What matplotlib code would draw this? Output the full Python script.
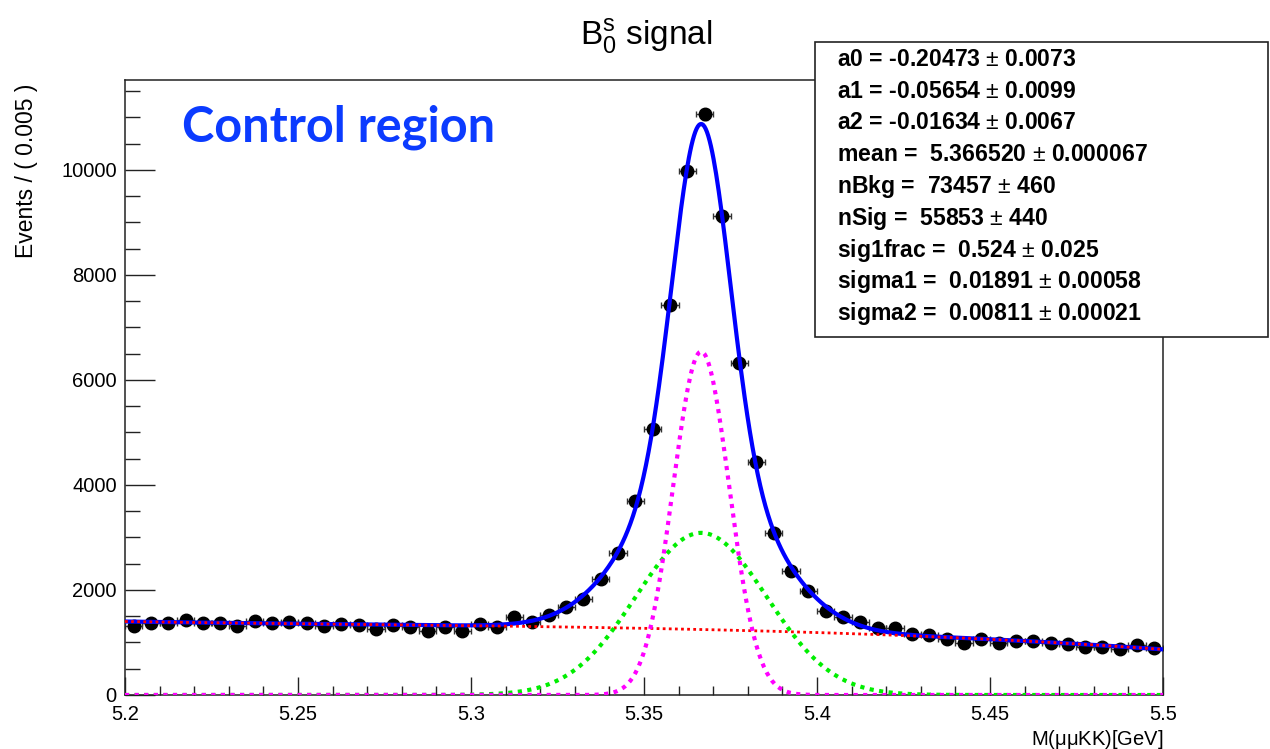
import numpy as np
import matplotlib
matplotlib.use('Agg')
import matplotlib.pyplot as plt
from matplotlib.patches import Rectangle
from matplotlib.ticker import MultipleLocator

plt.rcParams['font.family'] = ['Liberation Sans', 'DejaVu Sans']
plt.rcParams['mathtext.fontset'] = 'custom'
plt.rcParams['mathtext.rm'] = 'Liberation Sans'
plt.rcParams['mathtext.it'] = 'Liberation Sans:italic'
plt.rcParams['mathtext.bf'] = 'Liberation Sans:bold'

# binned data: 60 bins of 0.005 GeV between 5.2 and 5.5
x_lo, x_hi = 5.2, 5.5
bin_w = 0.005
counts = [1320, 1377, 1377, 1429, 1365, 1377, 1314, 1410, 1365, 1384,
          1377, 1314, 1352, 1333, 1257, 1333, 1301, 1225, 1301, 1219,
          1352, 1301, 1479, 1384, 1515, 1670, 1822, 2203, 2711, 3702,
          5067, 7429, 9981, 11060, 9111, 6330, 4432, 3092, 2355, 1981,
          1600, 1492, 1397, 1270, 1270, 1162, 1143, 1060, 984, 1060,
          997, 1029, 1035, 997, 965, 921, 921, 870, 952, 889]

# fit results (Chebychev background + two Gaussians)
a0, a1, a2 = -0.20473, -0.05654, -0.01634
mean = 5.366520
nBkg = 73457
nSig = 55853
sig1frac = 0.524
sigma1 = 0.01891
sigma2 = 0.00811

fit_lines = [
    r'a0 = -0.20473 $\pm$ 0.0073',
    r'a1 = -0.05654 $\pm$ 0.0099',
    r'a2 = -0.01634 $\pm$ 0.0067',
    r'mean =  5.366520 $\pm$ 0.000067',
    r'nBkg =  73457 $\pm$ 460',
    r'nSig =  55853 $\pm$ 440',
    r'sig1frac =  0.524 $\pm$ 0.025',
    r'sigma1 =  0.01891 $\pm$ 0.00058',
    r'sigma2 =  0.00811 $\pm$ 0.00021',
]

counts = np.array(counts, dtype=float)
centers = x_lo + bin_w * (np.arange(len(counts)) + 0.5)

# model curves scaled to events per bin
x = np.linspace(x_lo, x_hi, 800)
u = 2 * (x - x_lo) / (x_hi - x_lo) - 1
cheb = 1 + a0 * u + a1 * (2 * u**2 - 1) + a2 * (4 * u**3 - 3 * u)
cheb_norm = 0.5 * (x_hi - x_lo) * (2 - 2 * a1 / 3)
bkg = nBkg * bin_w * cheb / cheb_norm


def gauss(xx, s):
    return np.exp(-0.5 * ((xx - mean) / s)**2) / (np.sqrt(2 * np.pi) * s)


sig1 = nSig * sig1frac * bin_w * gauss(x, sigma1)
sig2 = nSig * (1 - sig1frac) * bin_w * gauss(x, sigma2)
total = bkg + sig1 + sig2

W, H = 1270, 749
fig = plt.figure(figsize=(W / 100, H / 100), dpi=100)
ax = fig.add_axes([125 / W, 54 / H, 1038 / W, 615 / H])

ax.errorbar(centers, counts, xerr=bin_w / 2, yerr=np.sqrt(counts), fmt='o',
            color='black', ecolor='#333333', ms=9, elinewidth=1, capsize=2.5,
            capthick=1, zorder=2)
ax.plot(x, total, color='#0000ff', lw=3, zorder=3)
ax.plot(x, bkg, color='#ff0000', lw=2, ls=(0, (1, 1.2)), zorder=4)
ax.plot(x, sig1, color='#00ee00', lw=3, ls=(0, (1, 1.3)), zorder=5)
ax.plot(x, sig2, color='#ff00ff', lw=3, ls=(0, (1, 1.3)), zorder=6)

ax.set_xlim(x_lo, x_hi)
ax.set_ylim(0, 11710)
ax.xaxis.set_minor_locator(MultipleLocator(0.01))
ax.yaxis.set_major_locator(MultipleLocator(2000))
ax.yaxis.set_minor_locator(MultipleLocator(500))
ax.set_xticks([5.2, 5.25, 5.3, 5.35, 5.4, 5.45, 5.5])
ax.set_xticklabels(['5.2', '5.25', '5.3', '5.35', '5.4', '5.45', '5.5'])
ax.tick_params(which='both', direction='in', top=False, right=False,
               labelsize=14.5, width=1, color='#222222')
ax.tick_params(axis='y', which='major', length=21.5, pad=6)
ax.tick_params(axis='y', which='minor', length=11)
ax.tick_params(axis='x', which='major', length=13, pad=7)
ax.tick_params(axis='x', which='minor', length=6.5)
for sp in ax.spines.values():
    sp.set_linewidth(1.1)
    sp.set_color('#222222')

fig.text(27 / W, 1 - 84 / H, 'Events / ( 0.005 )', rotation=90, ha='center',
         va='top', fontsize=16.5)
fig.text(1163 / W, 1 - 745 / H, r'M($\mathrm{\mu\mu}$KK)[GeV]', ha='right',
         va='baseline', fontsize=14.5)
fig.text(646 / W, 1 - 45 / H, r'$\mathrm{B_0^s}$ signal', ha='center',
         va='baseline', fontsize=24)
fig.text(182 / W, 1 - 142 / H, 'Control region', color='#0b3bff',
         fontsize=35, fontweight='bold', family=['Lato', 'DejaVu Sans'],
         va='baseline')

# fit parameter box
box = Rectangle((815 / W, 1 - 337 / H), (1268 - 815) / W, (337 - 42) / H,
                transform=fig.transFigure, facecolor='white',
                edgecolor='#222222', lw=1.2)
fig.add_artist(box)
for k, line in enumerate(fit_lines):
    fig.text(837 / W, 1 - (65.7 + 31.8 * k) / H, line, fontsize=16.6,
             fontweight='bold', va='baseline')

fig.savefig('out.png', dpi=100)
